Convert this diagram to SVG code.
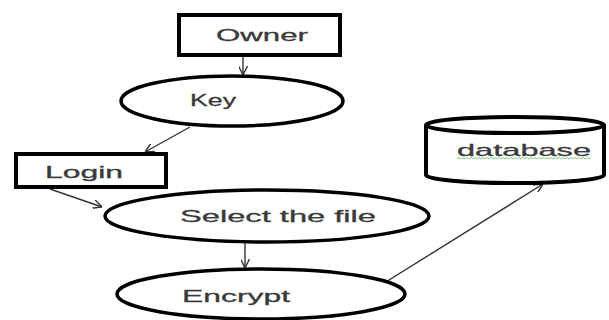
<svg xmlns="http://www.w3.org/2000/svg" width="609" height="320" viewBox="0 0 609 320">
  <style>
    .box { fill: #fff; stroke: #000; stroke-width: 4; }
    .oval { fill: #fff; stroke: #000; stroke-width: 3.5; }
    .label { font-family: "Liberation Sans", Arial, sans-serif; font-size: 17px; fill: #3a3a3a; text-anchor: middle; dominant-baseline: central; stroke: #3a3a3a; stroke-width: 0.3; }
    .link { fill: none; stroke: #333; stroke-width: 1.4; marker-end: url(#arrow); }
  </style>
  <defs>
    <marker id="arrow" viewBox="0 0 10 10" refX="10" refY="5" markerWidth="9" markerHeight="9" markerUnits="userSpaceOnUse" orient="auto">
      <polyline points="0,0 10,5 0,10" fill="none" stroke="#333" stroke-width="1.6"/>
    </marker>
  </defs>
  <rect width="609" height="320" fill="#fff"/>

  <g id="connectors">
    <line class="link" x1="243" y1="55" x2="243" y2="75"/>
    <line class="link" x1="190" y1="127" x2="145" y2="152"/>
    <line class="link" x1="50" y1="189" x2="102" y2="207"/>
    <line class="link" x1="245" y1="243" x2="245" y2="268"/>
    <line class="link" x1="373" y1="290" x2="543" y2="184"/>
  </g>

  <g id="owner">
    <rect class="box" x="179" y="15" width="161" height="40"/>
    <text class="label" x="262" y="35" textLength="92" lengthAdjust="spacingAndGlyphs">Owner</text>
  </g>

  <g id="key">
    <ellipse class="oval" cx="232" cy="101" rx="111" ry="25"/>
    <text class="label" x="213" y="100" textLength="46" lengthAdjust="spacingAndGlyphs">Key</text>
  </g>

  <g id="login">
    <rect class="box" x="16" y="154" width="150" height="33"/>
    <text class="label" x="84" y="172" textLength="78" lengthAdjust="spacingAndGlyphs">Login</text>
  </g>

  <g id="select-file">
    <ellipse class="oval" cx="267" cy="216" rx="162" ry="26"/>
    <text class="label" x="278" y="216" textLength="196" lengthAdjust="spacingAndGlyphs">Select the file</text>
  </g>

  <g id="encrypt">
    <ellipse class="oval" cx="261" cy="294" rx="144" ry="25"/>
    <text class="label" x="236" y="296" textLength="108" lengthAdjust="spacingAndGlyphs">Encrypt</text>
  </g>

  <g id="database">
    <path class="box" stroke-width="3" d="M426,125 L426,175 A89,8 0 0 0 604,175 L604,125"/>
    <ellipse class="box" stroke-width="3" cx="515" cy="125" rx="89" ry="8"/>
    <text class="label" x="524" y="150" textLength="134" lengthAdjust="spacingAndGlyphs">database</text>
    <path d="M457,159 l2,-1.5 l2,1.5 l2,-1.5 l2,1.5 l2,-1.5 l2,1.5 l2,-1.5 l2,1.5 l2,-1.5 l2,1.5 l2,-1.5 l2,1.5 l2,-1.5 l2,1.5 l2,-1.5 l2,1.5 l2,-1.5 l2,1.5 l2,-1.5 l2,1.5 l2,-1.5 l2,1.5 l2,-1.5 l2,1.5 l2,-1.5 l2,1.5 l2,-1.5 l2,1.5 l2,-1.5 l2,1.5 l2,-1.5 l2,1.5 l2,-1.5 l2,1.5 l2,-1.5 l2,1.5 l2,-1.5 l2,1.5 l2,-1.5 l2,1.5 l2,-1.5 l2,1.5 l2,-1.5 l2,1.5 l2,-1.5 l2,1.5 l2,-1.5 l2,1.5 l2,-1.5 l2,1.5 l2,-1.5 l2,1.5 l2,-1.5 l2,1.5 l2,-1.5 l2,1.5 l2,-1.5 l2,1.5 l2,-1.5 l2,1.5 l2,-1.5 l2,1.5 l2,-1.5 l2,1.5 l2,-1.5 l2,1.5 l2,-1.5" fill="none" stroke="#6b6" stroke-width="0.8"/>
  </g>
</svg>
